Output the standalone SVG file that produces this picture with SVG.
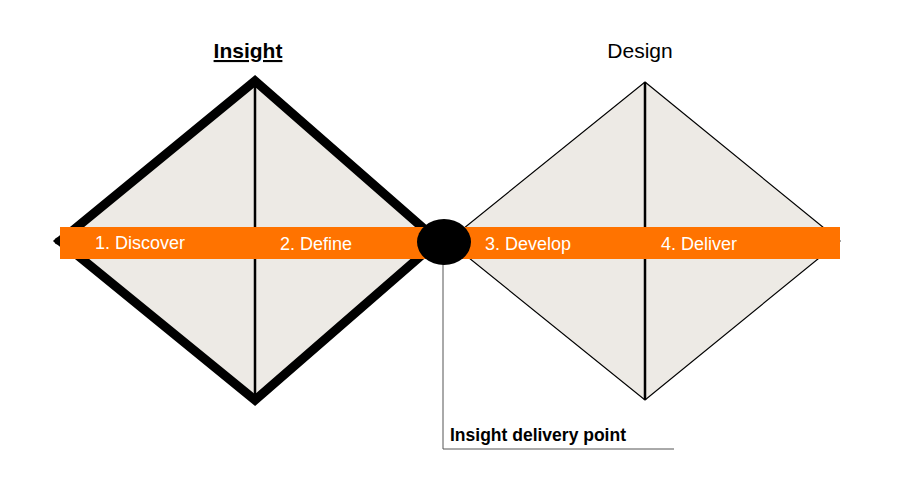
<svg xmlns="http://www.w3.org/2000/svg" width="907" height="491" viewBox="0 0 907 491">
<style>
.band{fill:#FF7300}
.lbl{font-family:"Liberation Sans",Arial,sans-serif;font-size:18px;fill:#ffffff}
.ttl{font-family:"Liberation Sans",Arial,sans-serif;font-size:21px;fill:#000}
</style>
<rect width="907" height="491" fill="#fff"/>
<g id="insight-diamond">
<polygon points="255,81 438,241 255,400 60,241" fill="#EDEAE5" stroke="#000" stroke-width="9" stroke-linejoin="miter"/>
<line x1="255" y1="81" x2="255" y2="400" stroke="#000" stroke-width="2.5"/>
</g>
<g id="design-diamond">
<polygon points="645,82 840,241 645,400 448,241" fill="#EDEAE5" stroke="#000" stroke-width="1.2"/>
<line x1="645" y1="82" x2="645" y2="400" stroke="#000" stroke-width="2.5"/>
</g>
<circle cx="58" cy="241" r="3.5" fill="#000"/>
<g id="band">
<rect class="band" x="60" y="227" width="780" height="32"/>
<text class="lbl" x="95" y="249">1. Discover</text>
<text class="lbl" x="280" y="250">2. Define</text>
<text class="lbl" x="485" y="250">3. Develop</text>
<text class="lbl" x="661" y="250">4. Deliver</text>
</g>
<g id="connectors">
<polyline points="443,262 443,449 674,449" fill="none" stroke="#555" stroke-width="1"/>
</g>
<g id="delivery-point">
<ellipse cx="444" cy="242" rx="27" ry="23" fill="#000"/>
</g>
<g id="titles">
<text class="ttl" x="248" y="58" text-anchor="middle" font-weight="bold" text-decoration="underline">Insight</text>
<text class="ttl" x="640" y="58" text-anchor="middle">Design</text>
</g>
<g id="delivery-label">
<text x="450" y="441" font-family="'Liberation Sans',Arial,sans-serif" font-size="17.5" font-weight="bold" fill="#000">Insight delivery point</text>
</g>
</svg>
